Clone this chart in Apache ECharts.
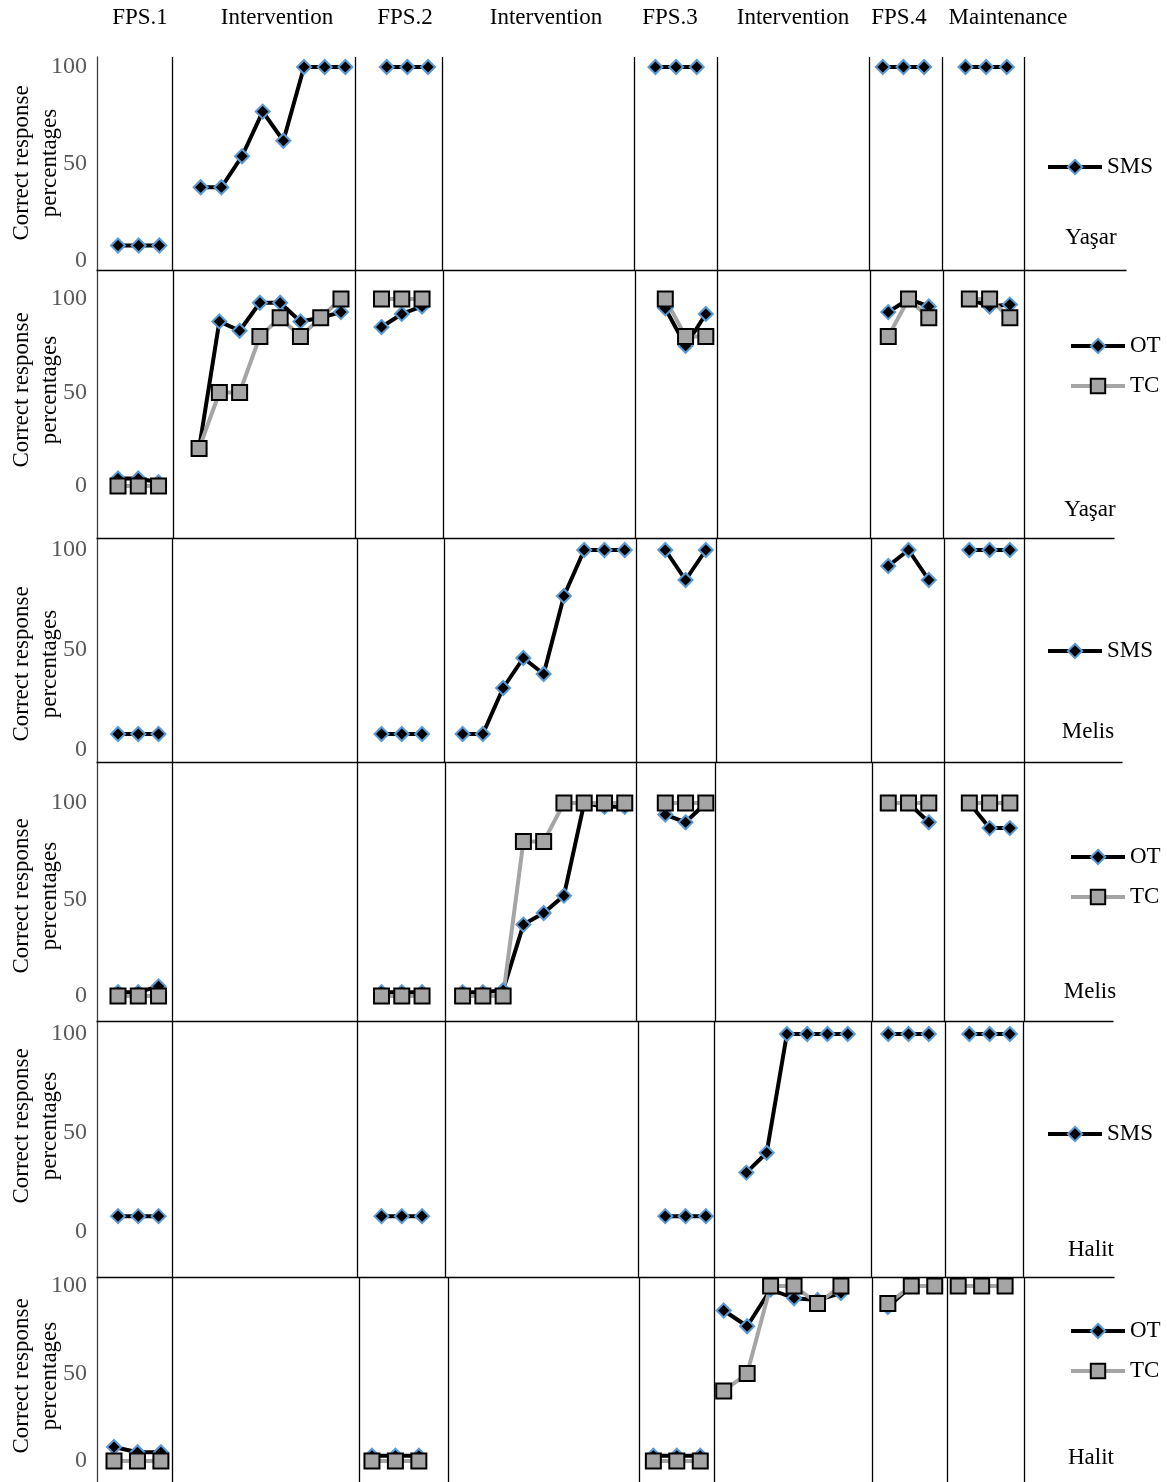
<!DOCTYPE html>
<html><head><meta charset="utf-8">
<script src="https://cdn.jsdelivr.net/npm/echarts@6/dist/echarts.min.js"></script>
<style>html,body{margin:0;padding:0;background:#fff}#c{width:1167px;height:1482px}</style>
</head><body><div id="c"></div>
<script>
// ---------------- DATA ----------------
const phaseTitles = ['FPS.1', 'Intervention', 'FPS.2', 'Intervention', 'FPS.3', 'Intervention', 'FPS.4', 'Maintenance'];
const yTickValues = [0, 50, 100];
const yAxisTitle = 'Correct response\npercentages';

// session number at which each phase starts (null = phase has no data in that panel)
const yasarSmsStart = [0, 4, 13, null, 26, null, 37, 41];
const yasarSMS = [[8, 8, 8], [38, 38, 54, 77, 62, 100, 100, 100], [100, 100, 100], [], [100, 100, 100], [], [100, 100, 100], [100, 100, 100]];

const yasarOtTcStart = [0, 4, 13, null, 27, null, 38, 42];
const yasarOT = [[4, 4, 2], [20, 88, 83, 98, 98, 88, 90, 93], [85, 92, 96], [], [95, 75, 92], [], [93, 100, 96], [100, 96, 97]];
const yasarTC = [[0, 0, 0], [20, 50, 50, 80, 90, 80, 90, 100], [100, 100, 100], [], [100, 80, 80], [], [80, 100, 90], [100, 100, 90]];

const melisSmsStart = [0, null, 13, 17, 27, null, 38, 42];
const melisSMS = [[8, 8, 8], [], [8, 8, 8], [8, 8, 31, 46, 38, 77, 100, 100, 100], [100, 85, 100], [], [92, 100, 85], [100, 100, 100]];

const melisOtTcStart = [0, null, 13, 17, 27, null, 38, 42];
const melisOT = [[2, 2, 5], [], [2, 2, 2], [2, 2, 3, 37, 43, 52, 100, 98, 98], [94, 90, 100], [], [100, 100, 90], [100, 87, 87]];
const melisTC = [[0, 0, 0], [], [0, 0, 0], [0, 0, 0, 80, 80, 100, 100, 100, 100], [100, 100, 100], [], [100, 100, 100], [100, 100, 100]];

const halitSmsStart = [0, null, 13, null, 27, 31, 38, 42];
const halitSMS = [[8, 8, 8], [], [8, 8, 8], [], [8, 8, 8], [30, 40, 100, 100, 100, 100], [100, 100, 100], [100, 100, 100]];

const halitOtTcStart = [0, null, 11, null, 23, 26, 33, 36];
const halitOT = [[8, 5, 5], [], [3, 3, 3], [], [3, 3, 3], [86, 77, 98, 93, 92, 96], [88, 100, 100], [100, 100, 100]];
const halitTC = [[0, 0, 0], [], [0, 0, 0], [], [0, 0, 0], [40, 50, 100, 100, 90, 100], [90, 100, 100], [100, 100, 100]];

// phase-change lines, in session units
const yasarSmsPhaseLines = [2.61, 11.47, 15.67, 24.96, 29.0, 36.33, 39.86, 43.83];
const yasarOtTcPhaseLines = [2.71, 11.72, 16.05, 25.51, 29.55, 37.1, 40.7, 44.7];
const melisSmsPhaseLines = [2.66, 11.79, 16.08, 25.55, 29.5, 37.15, 40.75, 44.7];
const melisOtTcPhaseLines = [2.66, 11.79, 16.13, 25.59, 29.45, 37.2, 40.75, 44.7];
const halitSmsPhaseLines = [2.66, 11.79, 16.13, 25.65, 29.4, 37.17, 40.82, 44.67];
const halitOtTcPhaseLines = [2.47, 10.45, 14.24, 22.39, 25.59, 32.32, 35.52, 38.8];

// ---------------- LAYOUT ----------------
const FONT = '"Times New Roman", "Liberation Serif", serif';
const AXIS_LEFT = 97;
const panels = [
  { participant: 'Yaşar', start: yasarSmsStart, series: [['SMS', yasarSMS]], lines: yasarSmsPhaseLines,
    s0: 118, step: 20.67, rightEnd: 1126, y100: 67, y0: 261, top: 57, bottom: 270, xLine: true,
    namePos: [1091, 238], legendLeft: 1046, legendY: 167, titleY: 163 },
  { participant: 'Yaşar', start: yasarOtTcStart, series: [['OT', yasarOT], ['TC', yasarTC]], lines: yasarOtTcPhaseLines,
    s0: 118, step: 20.27, rightEnd: 1114, y100: 299, y0: 486, top: 270, bottom: 538, xLine: true,
    namePos: [1090, 510], legendLeft: 1069, legendY: 346, titleY: 390 },
  { participant: 'Melis', start: melisSmsStart, series: [['SMS', melisSMS]], lines: melisSmsPhaseLines,
    s0: 118, step: 20.27, rightEnd: 1122, y100: 550, y0: 750, top: 538, bottom: 762, xLine: true,
    namePos: [1088, 732], legendLeft: 1046, legendY: 651, titleY: 664 },
  { participant: 'Melis', start: melisOtTcStart, series: [['OT', melisOT], ['TC', melisTC]], lines: melisOtTcPhaseLines,
    s0: 118, step: 20.27, rightEnd: 1113, y100: 803, y0: 996, top: 762, bottom: 1021, xLine: true,
    namePos: [1090, 992], legendLeft: 1069, legendY: 857, titleY: 896 },
  { participant: 'Halit', start: halitSmsStart, series: [['SMS', halitSMS]], lines: halitSmsPhaseLines,
    s0: 118, step: 20.27, rightEnd: 1114, y100: 1034, y0: 1232, top: 1021, bottom: 1277, xLine: true,
    namePos: [1091, 1250], legendLeft: 1046, legendY: 1134, titleY: 1126 },
  { participant: 'Halit', start: halitOtTcStart, series: [['OT', halitOT], ['TC', halitTC]], lines: halitOtTcPhaseLines,
    s0: 114, step: 23.45, rightEnd: 1114, y100: 1286, y0: 1461, top: 1277, bottom: 1482, xLine: false,
    namePos: [1091, 1458], legendLeft: 1069, legendY: 1331, titleY: 1376 }
];
const phaseTitleX = [140, 277, 405, 546, 670, 793, 899, 1008];
const phaseTitleY = 18;

const styles = {
  SMS: { symbol: 'diamond', symbolSize: 14, itemStyle: { color: '#000', borderColor: '#5B9BD5', borderWidth: 2 }, lineStyle: { color: '#000', width: 4 } },
  OT:  { symbol: 'diamond', symbolSize: 14, itemStyle: { color: '#000', borderColor: '#5B9BD5', borderWidth: 2 }, lineStyle: { color: '#000', width: 4 } },
  TC:  { symbol: 'rect', symbolSize: 15, itemStyle: { color: '#A5A5A5', borderColor: '#000', borderWidth: 2 }, lineStyle: { color: '#A5A5A5', width: 4 } }
};

function buildData(starts, vals) {
  const out = [];
  vals.forEach((seg, i) => {
    if (!seg.length || starts[i] === null) return;
    if (out.length) out.push([starts[i] - 0.5, '-']);
    seg.forEach((v, k) => out.push([starts[i] + k, v]));
  });
  return out;
}

const grid = [], xAxis = [], yAxis = [], series = [], legend = [], graphic = [];
panels.forEach((p, i) => {
  const scale = (p.y0 - p.y100) / 100;
  grid.push({ left: AXIS_LEFT, width: p.rightEnd - AXIS_LEFT, top: p.top, height: p.bottom - p.top, containLabel: false });
  xAxis.push({
    gridIndex: i, type: 'value',
    min: (AXIS_LEFT - p.s0) / p.step, max: (p.rightEnd - p.s0) / p.step,
    axisLine: { show: p.xLine, onZero: false, lineStyle: { color: '#000', width: 1.3 } },
    axisTick: { show: false }, axisLabel: { show: false }, splitLine: { show: false }
  });
  yAxis.push({
    gridIndex: i, type: 'value',
    min: -(p.bottom - p.y0) / scale, max: 100 + (p.y100 - p.top) / scale,
    axisLine: { show: true, onZero: false, lineStyle: { color: '#404040', width: 1.3 } },
    axisTick: { show: false }, splitLine: { show: false },
    axisLabel: { customValues: yTickValues, color: '#595959', fontSize: 24, fontFamily: FONT, margin: 10 }
  });
  series.push({
    type: 'line', name: 'phases', xAxisIndex: i, yAxisIndex: i, data: [], silent: true,
    markLine: { silent: true, symbol: 'none', label: { show: false },
      lineStyle: { color: '#000', width: 1.3, type: 'solid' },
      emphasis: { disabled: true },
      data: p.lines.map(v => ({ xAxis: v })) }
  });
  p.series.forEach(([name, vals]) => {
    series.push(Object.assign({
      type: 'line', name, xAxisIndex: i, yAxisIndex: i,
      data: buildData(p.start, vals), connectNulls: false, silent: true
    }, JSON.parse(JSON.stringify(styles[name]))));
  });
  const names = p.series.map(s => s[0]);
  legend.push({
    data: names, orient: 'vertical', left: p.legendLeft, top: p.legendY - 11.5, padding: 0,
    itemWidth: 54, itemHeight: 18, itemGap: 17, selectedMode: false,
    lineStyle: { width: 4 },
    textStyle: { fontFamily: FONT, fontSize: 23, color: '#000', lineHeight: 23, padding: [0, 0, 0, 0] }
  });
  graphic.push({ type: 'text', x: p.namePos[0], y: p.namePos[1], silent: true,
    style: { text: p.participant, fontFamily: FONT, fontSize: 23, fill: '#000', align: 'center', verticalAlign: 'middle' } });
  graphic.push({ type: 'text', x: 36, y: p.titleY, rotation: Math.PI / 2, silent: true,
    style: { text: yAxisTitle, fontFamily: FONT, fontSize: 23, lineHeight: 28, fill: '#000', align: 'center', verticalAlign: 'middle' } });
});
phaseTitles.forEach((t, k) => {
  graphic.push({ type: 'text', x: phaseTitleX[k], y: phaseTitleY, silent: true,
    style: { text: t, fontFamily: FONT, fontSize: 23, fill: '#000', align: 'center', verticalAlign: 'middle' } });
});

const chart = echarts.init(document.getElementById('c'));
chart.setOption({
  animation: false, backgroundColor: '#fff',
  grid, xAxis, yAxis, series, legend, graphic
});
</script></body></html>
